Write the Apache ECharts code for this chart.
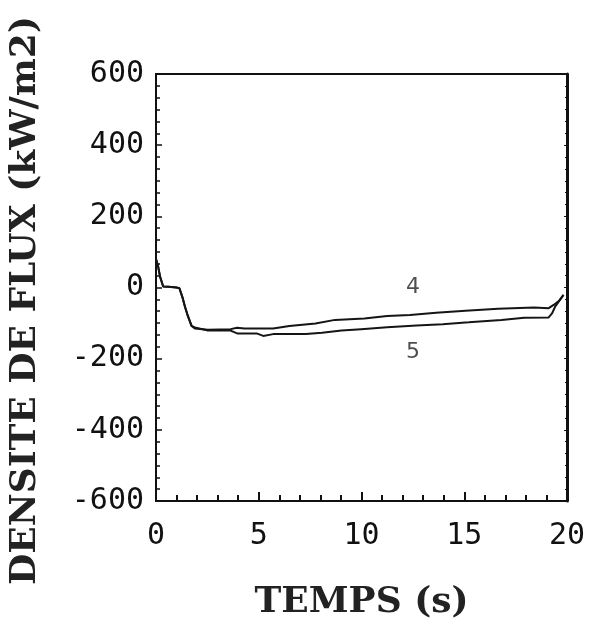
<!DOCTYPE html>
<html>
<head>
<meta charset="utf-8">
<script src="https://cdn.jsdelivr.net/npm/echarts@6/dist/echarts.min.js"></script>
<style>
html,body{margin:0;padding:0;background:#fff;}
#chart{width:589px;height:626px;}
</style>
</head>
<body>
<div id="chart"></div>
<script>
// Axis ranges / ticks
var xTicks = [0, 5, 10, 15, 20];
var yTicks = [-600, -400, -200, 0, 200, 400, 600];

// Curve 4 (upper)
var time4 = [0, 0.1, 0.2, 0.35, 0.6, 1.0, 1.14, 1.3, 1.41, 1.55, 1.73, 1.89, 2.52, 3.63, 3.95, 4.3, 4.9, 5.7, 6.49, 7.76, 8.71, 10.14, 11.25, 12.36, 13.63, 15.06, 16.65, 18.4, 19.11, 19.35, 19.6, 19.83];
var flux4 = [80, 60, 30, 3, 2, 0, -2, -30, -54, -80, -108, -115, -119, -117, -113, -115, -115, -115, -108, -101, -91, -87, -80, -77, -71, -65, -60, -56, -58, -49, -38, -21];

// Curve 5 (lower)
var time5 = [0, 0.1, 0.2, 0.35, 0.6, 1.0, 1.14, 1.3, 1.41, 1.55, 1.73, 1.89, 2.52, 3.63, 3.95, 4.9, 5.22, 5.7, 7.29, 8.08, 9.03, 9.98, 11.25, 12.68, 13.95, 15.22, 16.81, 17.92, 19.11, 19.27, 19.43, 19.83];
var flux5 = [80, 60, 30, 3, 2, 0, -2, -30, -54, -80, -108, -112, -121, -121, -129, -129, -136, -131, -131, -127, -121, -117, -112, -107, -103, -98, -91, -85, -84, -73, -53, -21];

// Curve labels
var curveLabels = [[12.5, 0, '4'], [12.5, -181, '5']];

function pairs(xs, ys) { return xs.map(function (x, i) { return [x, ys[i]]; }); }

var chart = echarts.init(document.getElementById('chart'));
var tickFont = { fontFamily: 'DejaVu Sans Mono', fontSize: 30, color: '#111' };
var titleFont = { fontFamily: 'DejaVu Serif', fontWeight: 'bold', fontSize: 36, color: '#222' };

chart.setOption({
  animation: false,
  backgroundColor: '#fff',
  grid: { left: 144, right: 22, top: 74, bottom: 125, show: true, borderColor: '#111', borderWidth: 2 },
  xAxis: {
    type: 'value', min: xTicks[0], max: xTicks[xTicks.length - 1], interval: 5,
    name: 'TEMPS (s)', nameLocation: 'middle', nameGap: 84, nameTextStyle: titleFont,
    axisLine: { show: true, onZero: false, lineStyle: { color: '#111', width: 2 } },
    axisTick: { show: true, inside: true, length: 9, lineStyle: { color: '#111', width: 2 } },
    minorTick: { show: true, splitNumber: 5, length: 6, lineStyle: { color: '#111', width: 2 } },
    axisLabel: Object.assign({ margin: 20 }, tickFont),
    splitLine: { show: false }
  },
  yAxis: [{
    type: 'value', min: yTicks[0], max: yTicks[yTicks.length - 1], interval: 200,
    name: 'DENSITE DE FLUX (kW/m2)', nameLocation: 'middle', nameGap: 112, nameRotate: 90,
    nameTextStyle: Object.assign({ padding: [0, 26, 0, 0] }, titleFont),
    axisLine: { show: true, onZero: false, lineStyle: { color: '#111', width: 2 } },
    axisTick: { show: true, inside: true, length: 6, lineStyle: { color: '#111', width: 1.5 } },
    minorTick: { show: true, splitNumber: 6, length: 4, lineStyle: { color: '#111', width: 1.5 } },
    axisLabel: Object.assign({ margin: 12 }, tickFont),
    splitLine: { show: false }
  }, {
    type: 'value', position: 'right', min: yTicks[0], max: yTicks[yTicks.length - 1], interval: 200,
    axisLine: { show: true, onZero: false, lineStyle: { color: '#111', width: 3 } },
    axisTick: { show: true, inside: true, length: 3, lineStyle: { color: '#111', width: 1 } },
    minorTick: { show: true, splitNumber: 6, length: 2, lineStyle: { color: '#111', width: 1 } },
    axisLabel: { show: false },
    splitLine: { show: false }
  }],
  series: [{
    type: 'line', name: '4', data: pairs(time4, flux4), symbol: 'none',
    lineStyle: { color: '#151515', width: 2 }
  }, {
    type: 'line', name: '5', data: pairs(time5, flux5), symbol: 'none',
    lineStyle: { color: '#151515', width: 2 }
  }, {
    type: 'scatter', data: curveLabels, symbolSize: 0, silent: true,
    label: { show: true, position: 'inside', formatter: function (p) { return p.data[2]; },
      fontFamily: 'DejaVu Sans', fontSize: 22, color: '#222' }
  }]
});
</script>
</body>
</html>
